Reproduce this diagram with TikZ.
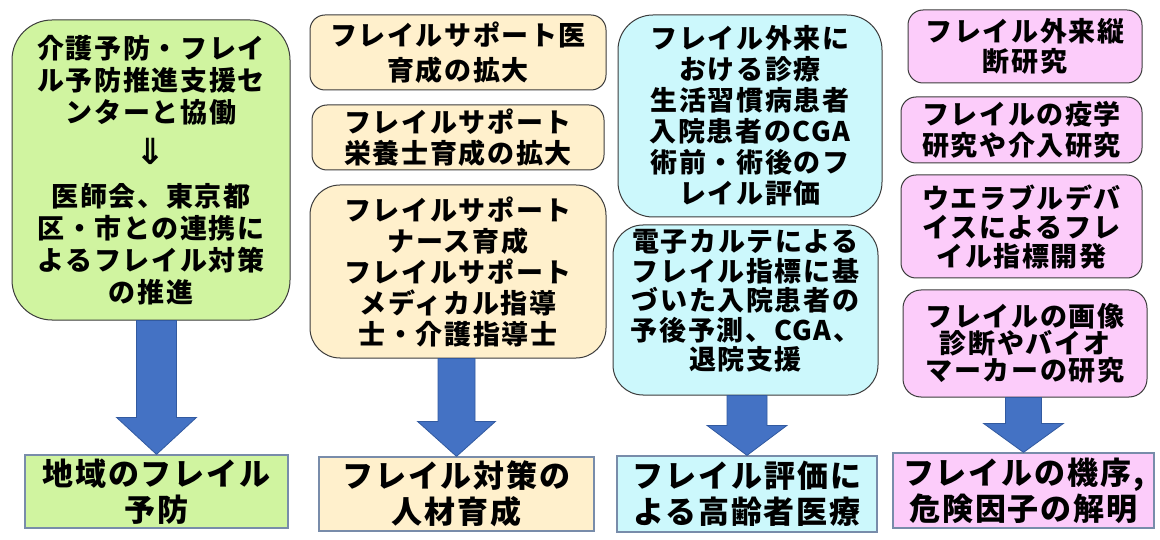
\documentclass[tikz,border=0pt]{standalone}
\usepackage{fontspec}
\newfontfamily\jp[LetterSpace=6]{Noto Sans CJK JP}
\newfontfamily\djv{DejaVu Sans}
\usetikzlibrary{calc}
\definecolor{gfill}{RGB}{208,244,160}
\definecolor{yfill}{RGB}{255,240,204}
\definecolor{cfill}{RGB}{204,248,252}
\definecolor{pfill}{RGB}{252,204,250}
\definecolor{rborder}{RGB}{60,60,60}
\definecolor{bborder}{RGB}{120,140,170}
\definecolor{arrfill}{RGB}{68,114,196}
\definecolor{arrdraw}{RGB}{50,90,160}
\tikzset{
  lsp/.style={font=\jp\bfseries\fontsize{27}{#1}\selectfont},
  rbox/.style={draw=rborder, line width=1pt, rounded corners=#1, inner sep=0pt, align=center},
  bbox/.style={draw=bborder, line width=1.2pt, inner sep=0pt, align=center, font=\jp\bfseries\fontsize{31}{36}\selectfont},
  blockarrow/.style={fill=arrfill, draw=arrdraw, line width=0.8pt},
}
\newcommand\blockarr[5]{%
  \filldraw[blockarrow] let \p1=(#1.south), \p2=(#2.north) in
  (\x2-#3pt,\y1) -- (\x2+#3pt,\y1) -- (\x2+#3pt,\y2+#5pt) -- (\x2+#4pt,\y2+#5pt)
  -- (\x2,\y2) -- (\x2-#4pt,\y2+#5pt) -- (\x2-#3pt,\y2+#5pt) -- cycle;}
\begin{document}
\begin{tikzpicture}[x=1pt,y=-1pt]
\useasboundingbox[fill=white] (0,0) rectangle (1160,540);
% column 1
\node[rbox=40pt, lsp=32, fill=gfill, minimum width=278pt, minimum height=300pt] (g1) at (151,170)
 {介護予防・フレイ\\ル予防推進支援セ\\ンターと協働\\[10pt]{\djv\fontsize{36}{32}\selectfont ⇓}\\[10pt]医師会、東京都\\区・市との連携に\\よるフレイル対策\\の推進};
\node[bbox, fill=gfill, minimum width=263pt, minimum height=73pt] (gb) at (156.5,491.5)
 {地域のフレイル\\予防};
% column 2
\node[rbox=15pt, lsp=35, fill=yfill, minimum width=296pt, minimum height=75pt] (y1) at (458,52.5)
 {フレイルサポート医\\育成の拡大};
\node[rbox=15pt, lsp=31, fill=yfill, minimum width=292pt, minimum height=65pt] (y2) at (458,137.5)
 {フレイルサポート\\栄養士育成の拡大};
\node[rbox=30pt, lsp=31, fill=yfill, minimum width=296pt, minimum height=173pt] (y3) at (458,271.5)
 {フレイルサポート\\ナース育成\\フレイルサポート\\メディカル指導\\士・介護指導士};
\node[bbox, fill=yfill, minimum width=275pt, minimum height=74pt] (yb) at (456.5,494)
 {フレイル対策の\\人材育成};
% column 3
\node[rbox=35pt, lsp=31, fill=cfill, minimum width=264pt, minimum height=202pt] (c1) at (750,116)
 {フレイル外来に\\おける診療\\生活習慣病患者\\入院患者のCGA\\術前・術後のフ\\レイル評価};
\node[rbox=30pt, fill=cfill, minimum width=265pt, minimum height=170pt] (c2) at (745.5,310) {};
\node[lsp=29.5, inner sep=0pt, align=center] (c2t) at (745.5,301)
 {電子カルテによる\\フレイル指標に基\\づいた入院患者の\\予後予測、CGA、\\退院支援};
\node[bbox, fill=cfill, minimum width=260pt, minimum height=76pt] (cb) at (747,494)
 {フレイル評価に\\よる高齢者医療};
% column 4
\node[rbox=15pt, lsp=30, fill=pfill, minimum width=234pt, minimum height=73pt] (p1) at (1025,46.5)
 {フレイル外来縦\\断研究};
\node[rbox=15pt, lsp=31, fill=pfill, minimum width=241pt, minimum height=66pt] (p2) at (1021.5,130)
 {フレイルの疫学\\研究や介入研究};
\node[rbox=15pt, lsp=29, fill=pfill, minimum width=241pt, minimum height=103pt] (p3) at (1021.5,226.5)
 {ウエラブルデバ\\イスによるフレ\\イル指標開発};
\node[rbox=18pt, lsp=27, fill=pfill, minimum width=244pt, minimum height=107pt] (p4) at (1025,343.5)
 {フレイルの画像\\診断やバイオ\\マーカーの研究};
\node[bbox, fill=pfill, minimum width=261pt, minimum height=75pt] (pb) at (1023.5,490.5)
 {フレイルの機序,\\危険因子の解明};
% arrows
\blockarr{g1}{gb}{20}{40}{37}
\blockarr{y3}{yb}{18.5}{39}{35}
\blockarr{c2}{cb}{20}{40}{30}
\blockarr{p4}{pb}{18}{40}{29}
\end{tikzpicture}
\end{document}
